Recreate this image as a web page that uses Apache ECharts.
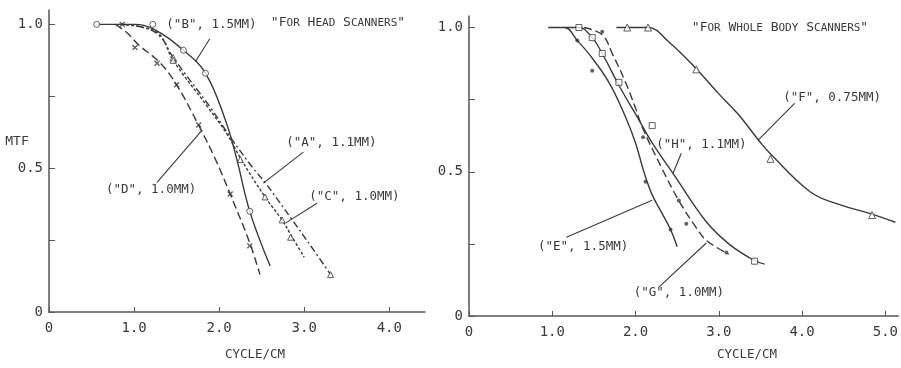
<!DOCTYPE html>
<html>
<head>
<meta charset="utf-8">
<script src="https://cdn.jsdelivr.net/npm/echarts@6/dist/echarts.min.js"></script>
<style>
  html, body { margin: 0; padding: 0; background: #fff; }
  #chart { width: 901px; height: 368px; }
</style>
</head>
<body>
<div id="chart"></div>
<script>
// --- head scanners (left panel) ---
const curveA = [[0.85, 1.0], [1.1, 0.99], [1.3, 0.96], [1.46, 0.885], [1.9, 0.71], [2.15, 0.6], [2.4, 0.5], [2.54, 0.45], [2.86, 0.32], [3.1, 0.22], [3.31, 0.13]];
const curveB = [[0.56, 1.0], [1.0, 1.0], [1.22, 0.985], [1.58, 0.91], [1.84, 0.83], [2.07, 0.67], [2.2, 0.54], [2.36, 0.35], [2.6, 0.16]];
const curveC = [[0.85, 1.0], [1.1, 0.99], [1.3, 0.965], [1.46, 0.875], [1.86, 0.715], [2.1, 0.615], [2.25, 0.535], [2.54, 0.4], [2.74, 0.32], [2.84, 0.27], [3.0, 0.19]];
const curveD = [[0.78, 1.0], [0.92, 0.97], [1.05, 0.93], [1.31, 0.865], [1.5, 0.79], [1.74, 0.66], [1.95, 0.535], [2.13, 0.41], [2.36, 0.24], [2.48, 0.13]];
const markA = [[1.46, 0.885], [3.31, 0.13]];
const markB = [[0.56, 1.0], [1.22, 1.0], [1.58, 0.91], [1.84, 0.83], [2.36, 0.35]];
const markC = [[1.46, 0.875], [2.25, 0.53], [2.54, 0.4], [2.74, 0.32], [2.84, 0.26]];
const markD = [[0.86, 1.0], [1.01, 0.92], [1.27, 0.865], [1.5, 0.79], [1.76, 0.65], [2.13, 0.41], [2.36, 0.23]];

// --- whole body scanners (right panel) ---
const curveE = [[0.95, 1.0], [1.15, 1.0], [1.3, 0.955], [1.45, 0.905], [1.68, 0.81], [1.88, 0.69], [2.0, 0.6], [2.1, 0.5], [2.2, 0.42], [2.32, 0.355], [2.42, 0.3], [2.5, 0.24]];
const curveF = [[1.77, 1.0], [2.15, 1.0], [2.4, 0.95], [2.72, 0.86], [3.0, 0.77], [3.23, 0.7], [3.49, 0.605], [3.61, 0.565], [4.1, 0.43], [4.46, 0.385], [4.82, 0.355], [5.12, 0.325]];
const curveG = [[1.38, 1.0], [1.6, 0.975], [1.72, 0.91], [1.88, 0.81], [2.0, 0.72], [2.08, 0.655], [2.32, 0.51], [2.52, 0.4], [2.72, 0.31], [2.86, 0.26], [3.12, 0.215]];
const curveH = [[1.15, 1.0], [1.32, 1.0], [1.48, 0.965], [1.6, 0.91], [1.8, 0.8], [2.04, 0.68], [2.2, 0.6], [2.46, 0.49], [2.84, 0.33], [3.12, 0.25], [3.41, 0.195], [3.55, 0.18]];
const markE = [[1.3, 0.955], [1.48, 0.85], [2.12, 0.465], [2.42, 0.3]];
const markF = [[1.9, 1.0], [2.15, 1.0], [2.73, 0.855], [3.62, 0.545], [4.84, 0.35]];
const markG = [[1.6, 0.985], [2.09, 0.62], [2.52, 0.4], [2.61, 0.32], [3.09, 0.22]];
const markH = [[1.32, 1.0], [1.48, 0.965], [1.6, 0.91], [1.8, 0.81], [2.2, 0.66], [3.43, 0.19]];

// tick values
const yTicks = [0, 0.25, 0.5, 0.75, 1.0];
const yLabels = [0, 0.5, 1.0];
const xTicksLeft = [0, 1, 2, 3, 4];
const xTicksRight = [0, 1, 2, 3, 4, 5];

// callouts: text, where it sits, arrow from -> to (data units)
const notesLeft = [
  { text: '("B", 1.5MM)', at: [1.91, 0.997], from: [1.89, 0.95], to: [1.72, 0.87] },
  { text: '("A", 1.1MM)', at: [3.32, 0.59], from: [2.99, 0.556], to: [2.52, 0.448] },
  { text: '("C", 1.0MM)', at: [3.59, 0.4], from: [3.15, 0.378], to: [2.78, 0.309] },
  { text: '("D", 1.0MM)', at: [1.2, 0.424], from: [1.27, 0.451], to: [1.8, 0.632] },
];
const notesRight = [
  { text: '("H", 1.1MM)', at: [2.79, 0.592], from: [2.55, 0.564], to: [2.45, 0.495] },
  { text: '("F", 0.75MM)', at: [4.36, 0.758], from: [3.91, 0.737], to: [3.47, 0.609] },
  { text: '("E", 1.5MM)', at: [1.37, 0.239], from: [1.17, 0.273], to: [2.2, 0.401] },
  { text: '("G", 1.0MM)', at: [2.52, 0.08], from: [2.28, 0.1], to: [2.85, 0.253] },
];

const INK = '#3a3a3a';
const FONT = 'DejaVu Sans Mono';
const CROSS = 'path://M4,0h2v4h4v2h-4v4h-2v-4h-4v-2h4z';

function fmt(v) {
  return v === 0 ? '0' : v.toFixed(1);
}

function xAxis(grid, max, ticks) {
  return {
    type: 'value', gridIndex: grid, min: 0, max,
    axisLine: { onZero: false, lineStyle: { color: '#555', width: 1.5 } },
    axisTick: { inside: true, length: 5, customValues: ticks, lineStyle: { color: '#555' } },
    axisLabel: { customValues: ticks, formatter: fmt, margin: 9, color: INK, fontFamily: FONT, fontSize: 14 },
    splitLine: { show: false },
  };
}

function yAxis(grid, max) {
  return {
    type: 'value', gridIndex: grid, min: 0, max,
    axisLine: { onZero: false, lineStyle: { color: '#555', width: 1.5 } },
    axisTick: { inside: true, length: 6, customValues: yTicks, lineStyle: { color: '#555' } },
    axisLabel: { customValues: yLabels, formatter: fmt, margin: 6, color: INK, fontFamily: FONT, fontSize: 14 },
    splitLine: { show: false },
  };
}

function curve(grid, data, dash) {
  return {
    type: 'line', xAxisIndex: grid, yAxisIndex: grid, data,
    smooth: 0.4, showSymbol: false, symbol: 'none',
    lineStyle: { color: INK, width: 1.4, type: dash },
    silent: true, z: 3,
  };
}

function marks(grid, data, symbol, filled, size, rotate) {
  return {
    type: 'scatter', xAxisIndex: grid, yAxisIndex: grid, data,
    symbol, symbolSize: size, symbolRotate: rotate || 0,
    itemStyle: filled
      ? { color: INK }
      : { color: '#fff', borderColor: INK, borderWidth: 1 },
    silent: true, z: 4,
  };
}

function notes(grid, list) {
  return {
    type: 'scatter', xAxisIndex: grid, yAxisIndex: grid, data: [], silent: true,
    markPoint: {
      symbol: 'circle', symbolSize: 0,
      label: { show: true, position: 'inside', formatter: '{b}', color: INK, fontFamily: FONT, fontSize: 12.5 },
      data: list.map((n) => ({ coord: n.at, name: n.text, value: 0 })),
    },
    markLine: {
      symbol: ['none', 'arrow'], symbolSize: [0, 7],
      lineStyle: { type: 'solid', color: INK, width: 1.1 },
      label: { show: false },
      data: list.map((n) => [{ coord: n.from }, { coord: n.to }]),
    },
  };
}

function smallCaps(words) {
  // typewriter style small caps: first letter big, rest small
  return '"' + words.map((w) => '{b|' + w[0] + '}{s|' + w.slice(1) + '}').join('{b| }') + '"';
}

const chart = echarts.init(document.getElementById('chart'));
const capsRich = {
  b: { fontFamily: FONT, fontSize: 13, color: INK },
  s: { fontFamily: FONT, fontSize: 11, color: INK },
};

chart.setOption({
  animation: false,
  backgroundColor: '#fff',
  grid: [
    { left: 49, top: 10, width: 376, height: 302 },
    { left: 469, top: 16, width: 432, height: 300 },
  ],
  xAxis: [xAxis(0, 4.42, xTicksLeft), xAxis(1, 5.155, xTicksRight)],
  yAxis: [yAxis(0, 1.05), yAxis(1, 1.04)],
  graphic: [
    { type: 'text', x: 338, y: 23, style: { text: smallCaps(['FOR', 'HEAD', 'SCANNERS']), rich: capsRich, font: '13px ' + FONT, fill: INK, align: 'center', verticalAlign: 'middle' } },
    { type: 'text', x: 780, y: 28, style: { text: smallCaps(['FOR', 'WHOLE', 'BODY', 'SCANNERS']), rich: capsRich, font: '13px ' + FONT, fill: INK, align: 'center', verticalAlign: 'middle' } },
    { type: 'text', x: 17, y: 142, style: { text: 'MTF', font: '13px ' + FONT, fill: INK, align: 'center', verticalAlign: 'middle' } },
    { type: 'text', x: 255, y: 355, style: { text: 'CYCLE/CM', font: '12.5px ' + FONT, fill: INK, align: 'center', verticalAlign: 'middle' } },
    { type: 'text', x: 747, y: 355, style: { text: 'CYCLE/CM', font: '12.5px ' + FONT, fill: INK, align: 'center', verticalAlign: 'middle' } },
  ],
  series: [
    curve(0, curveA, [7, 3, 2, 3]),
    curve(0, curveB, 'solid'),
    curve(0, curveC, [3, 2]),
    curve(0, curveD, [8, 4]),
    marks(0, markA, 'triangle', false, 6),
    marks(0, markB, 'circle', false, 6),
    marks(0, markC, 'triangle', false, 6),
    marks(0, markD, CROSS, true, 7, 45),
    notes(0, notesLeft),

    curve(1, curveE, 'solid'),
    curve(1, curveF, 'solid'),
    curve(1, curveG, [8, 4]),
    curve(1, curveH, 'solid'),
    marks(1, markE, 'circle', true, 4),
    marks(1, markF, 'triangle', false, 7),
    marks(1, markG, 'circle', true, 4),
    marks(1, markH, 'rect', false, 6),
    notes(1, notesRight),
  ],
});
</script>
</body>
</html>
